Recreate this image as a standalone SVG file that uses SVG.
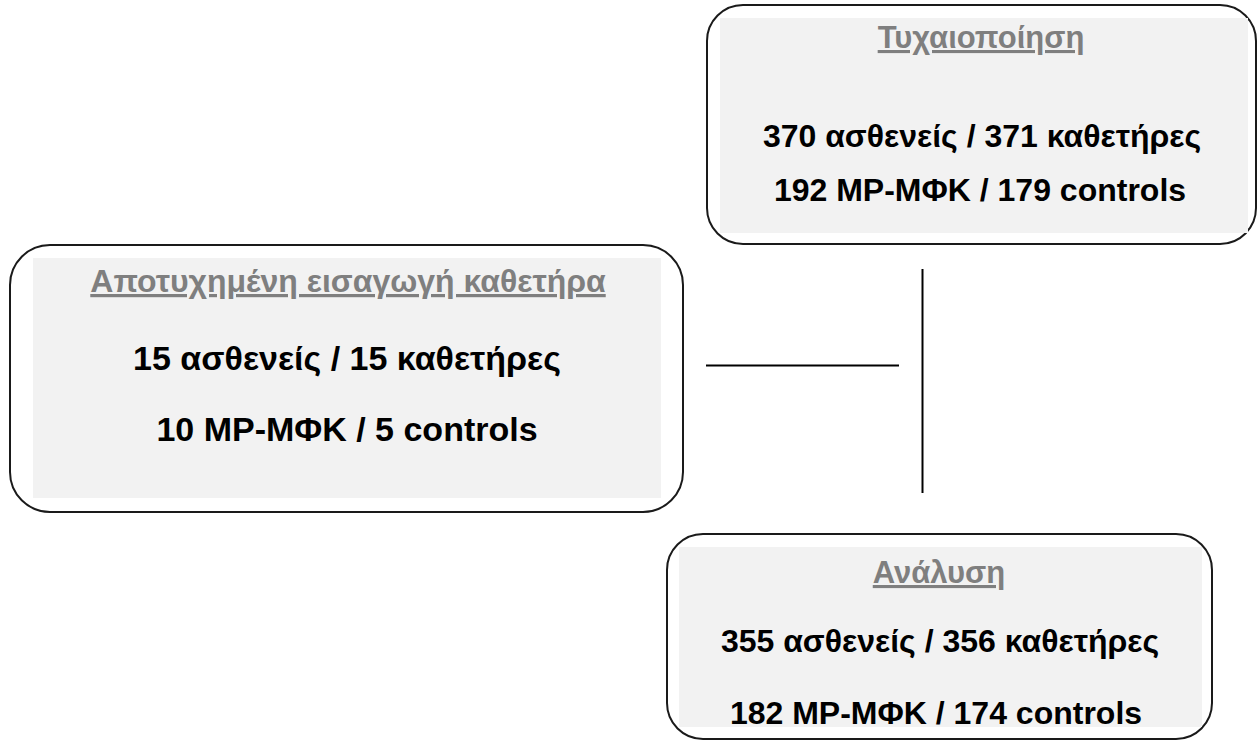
<svg xmlns="http://www.w3.org/2000/svg" width="1257" height="740" viewBox="0 0 1257 740">
<style>
.frame{fill:#ffffff;stroke:#1a1a1a;stroke-width:2}
.fill{fill:#f2f2f2}
.title{font-family:"Liberation Sans",Arial,sans-serif;font-weight:bold;fill:#7f7f7f;text-anchor:middle;text-decoration:underline}
.body{font-family:"Liberation Sans",Arial,sans-serif;font-weight:bold;fill:#000000;text-anchor:middle}
.conn{stroke:#000000;stroke-width:2;fill:none}
</style>
<rect width="1257" height="740" fill="#ffffff"/>
<g id="connectors">
<line class="conn" x1="706" y1="365.5" x2="899" y2="365.5"/>
<line class="conn" x1="922.5" y1="269" x2="922.5" y2="493"/>
</g>
<g id="randomization">
<rect class="frame" x="707" y="5" width="549" height="239" rx="36" ry="36"/>
<rect class="fill" x="720" y="18" width="528" height="215"/>
<text class="title" x="981" y="48" font-size="31">Τυχαιοποίηση</text>
<text class="body" x="982" y="147" font-size="32">370 ασθενείς / 371 καθετήρες</text>
<text class="body" x="980" y="201" font-size="32">192 MP-ΜΦΚ / 179 controls</text>
</g>
<g id="failed">
<rect class="frame" x="10" y="245" width="673" height="267" rx="40" ry="40"/>
<rect class="fill" x="33" y="258" width="628" height="240"/>
<text class="title" x="348" y="292" font-size="32">Αποτυχημένη εισαγωγή καθετήρα</text>
<text class="body" x="347" y="370" font-size="34">15 ασθενείς / 15 καθετήρες</text>
<text class="body" x="347" y="441" font-size="34">10 MP-ΜΦΚ / 5 controls</text>
</g>
<g id="analysis">
<rect class="frame" x="667" y="534" width="545" height="205" rx="36" ry="36"/>
<rect class="fill" x="679" y="547" width="523" height="180"/>
<text class="title" x="939" y="583" font-size="31">Ανάλυση</text>
<text class="body" x="940" y="652" font-size="32">355 ασθενείς / 356 καθετήρες</text>
<text class="body" x="936" y="724" font-size="32">182 MP-ΜΦΚ / 174 controls</text>
</g>
</svg>
